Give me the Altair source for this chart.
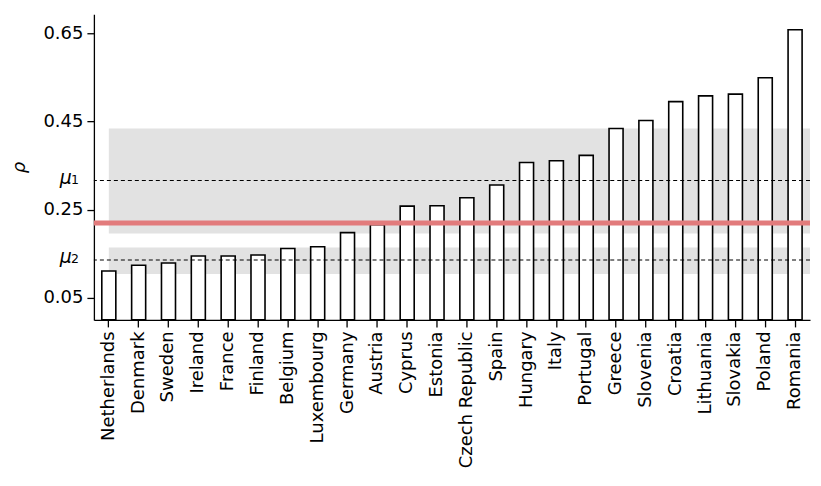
import altair as alt
import pandas as pd

countries = ["Netherlands", "Denmark", "Sweden", "Ireland", "France", "Finland",
             "Belgium", "Luxembourg", "Germany", "Austria", "Cyprus", "Estonia",
             "Czech Republic", "Spain", "Hungary", "Italy", "Portugal", "Greece",
             "Slovenia", "Croatia", "Lithuania", "Slovakia", "Poland", "Romania"]
rho = [0.111, 0.124, 0.129, 0.145, 0.145, 0.147, 0.162, 0.166, 0.198, 0.216,
       0.258, 0.259, 0.277, 0.306, 0.357, 0.361, 0.373, 0.434, 0.452, 0.495,
       0.508, 0.512, 0.549, 0.658]

mu_symbol = ["μ", "μ"]
mu_sub = ["1", "2"]
mu_values = [0.316, 0.136]
overall = [0.22]
band_lo = [0.196, 0.104]
band_hi = [0.434, 0.164]
band_start = [0, 0]
band_end = [23.5, 23.5]

W, H = 717, 306
FONT = "DejaVu Sans"
FS = 18

df = pd.DataFrame({"country": countries, "rho": rho})
mu_df = pd.DataFrame({"sym": mu_symbol, "sub": mu_sub, "v": mu_values})
red_df = pd.DataFrame({"v": overall})
band_df = pd.DataFrame({"lo": band_lo, "hi": band_hi, "s": band_start, "e": band_end})

yscale = alt.Scale(domain=[0, 0.693], nice=False, zero=False)

bands = alt.Chart(band_df).mark_rect(color="#e2e2e2").encode(
    x=alt.X("s:Q", scale=alt.Scale(domain=[-0.5, 23.5], nice=False, zero=False), axis=None),
    x2="e:Q",
    y=alt.Y("lo:Q", scale=yscale),
    y2="hi:Q",
)

bars = alt.Chart(df).mark_bar(fill="white", stroke="black", strokeWidth=1.6).encode(
    x=alt.X("country:N", sort=None,
            scale=alt.Scale(paddingInner=0.53, paddingOuter=0.265),
            axis=alt.Axis(title=None, labelAngle=-90, labelFont=FONT, labelFontSize=FS,
                          labelColor="black", domainColor="black", tickColor="black",
                          tickSize=7, labelPadding=4, labelBaseline="middle", labelAlign="right")),
    y=alt.Y("rho:Q", scale=yscale,
            axis=alt.Axis(values=[0.05, 0.25, 0.45, 0.65], format=".2f", title="ρ",
                          labelFont=FONT, labelFontSize=FS, labelColor="black",
                          domainColor="black", tickColor="black", tickSize=7,
                          labelPadding=4, grid=False, titleFont=FONT, titleFontSize=18,
                          titleFontWeight="normal", titleFontStyle="italic",
                          titleColor="black", titlePadding=14)),
)

dashes = alt.Chart(mu_df).mark_rule(color="black", strokeWidth=1.1, strokeDash=[4, 3]).encode(
    y=alt.Y("v:Q", scale=yscale)
)

mu_text = alt.Chart(mu_df).mark_text(align="right", baseline="alphabetic", font=FONT,
                                     fontSize=19, fontStyle="italic", color="black",
                                     dy=3).encode(
    x=alt.value(-22),
    y=alt.Y("v:Q", scale=yscale),
    text="sym:N",
)

sub_text = alt.Chart(mu_df).mark_text(align="right", baseline="alphabetic", font=FONT,
                                      fontSize=12.5, color="black", dy=3.5).encode(
    x=alt.value(-15),
    y=alt.Y("v:Q", scale=yscale),
    text="sub:N",
)

red = alt.Chart(red_df).mark_rule(color="#e27b7c", strokeWidth=5).encode(
    y=alt.Y("v:Q", scale=yscale)
)

chart = alt.layer(bands, bars, dashes, red, mu_text, sub_text).resolve_scale(x="independent").properties(
    width=W, height=H, padding={"left": 2, "top": 6, "right": 0, "bottom": 5}
).configure_view(stroke=None).configure_axis(domainWidth=1.3, tickWidth=1.3)

chart.save("out.html", embed_options={"renderer": "svg", "actions": False})
